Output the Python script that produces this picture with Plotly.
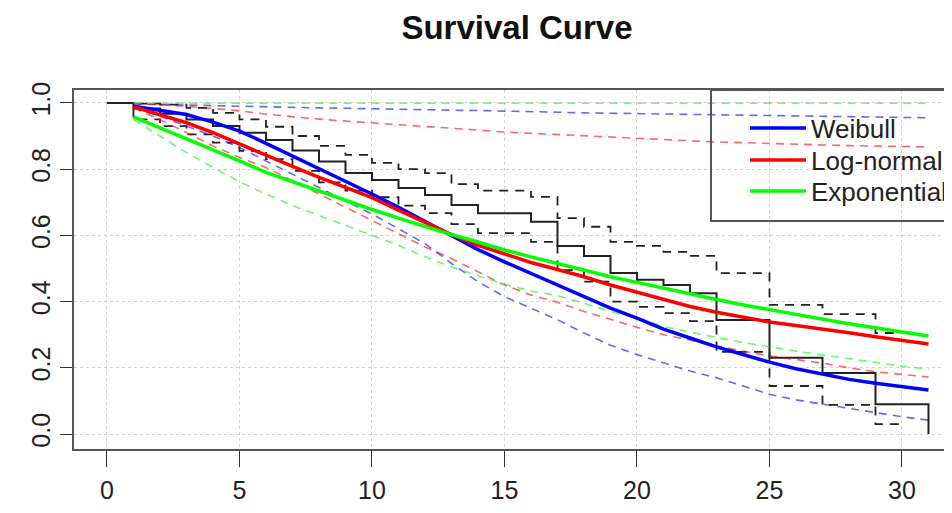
import plotly.graph_objects as go

# ---- Kaplan-Meier estimate (step) ----
km_time = list(range(0, 32))
km_surv = [1.0, 0.983, 0.967, 0.95, 0.93, 0.91, 0.888, 0.856, 0.823, 0.788, 0.767,
           0.743, 0.722, 0.692, 0.667, 0.667, 0.641, 0.568, 0.538, 0.486, 0.466,
           0.45, 0.425, 0.344, 0.344, 0.23, 0.23, 0.184, 0.184, 0.09, 0.09, 0.0]
ci_time = list(range(0, 31))
km_upper = [1.0, 0.998, 0.995, 0.985, 0.97, 0.95, 0.928, 0.90, 0.87, 0.843, 0.819,
            0.80, 0.788, 0.755, 0.735, 0.735, 0.716, 0.652, 0.626, 0.58, 0.568,
            0.55, 0.538, 0.486, 0.486, 0.39, 0.39, 0.362, 0.362, 0.305, 0.305]
km_lower = [1.0, 0.95, 0.93, 0.905, 0.88, 0.855, 0.83, 0.795, 0.76, 0.735, 0.715,
            0.69, 0.667, 0.634, 0.607, 0.607, 0.58, 0.495, 0.46, 0.40, 0.384,
            0.365, 0.341, 0.248, 0.248, 0.145, 0.145, 0.088, 0.088, 0.03, 0.03]

# ---- parametric fits ----
t = list(range(1, 32))
weibull = [0.99, 0.978, 0.965, 0.942, 0.915, 0.878, 0.84, 0.803, 0.765, 0.725, 0.685,
           0.642, 0.60, 0.557, 0.52, 0.485, 0.45, 0.415, 0.38, 0.35, 0.317, 0.29,
           0.263, 0.24, 0.217, 0.197, 0.18, 0.165, 0.153, 0.143, 0.133]
weibull_lo = [0.985, 0.96, 0.93, 0.90, 0.865, 0.825, 0.785, 0.745, 0.705, 0.664, 0.62,
              0.575, 0.515, 0.46, 0.415, 0.38, 0.345, 0.305, 0.268, 0.24, 0.215, 0.19,
              0.17, 0.145, 0.12, 0.103, 0.09, 0.077, 0.065, 0.052, 0.042]
weibull_hi = [0.997, 0.995, 0.993, 0.991, 0.99, 0.988, 0.987, 0.985, 0.984, 0.982, 0.981,
              0.98, 0.978, 0.977, 0.976, 0.974, 0.972, 0.97, 0.969, 0.968, 0.967, 0.965,
              0.964, 0.963, 0.962, 0.961, 0.96, 0.959, 0.957, 0.956, 0.955]
lognormal = [0.988, 0.965, 0.94, 0.91, 0.875, 0.842, 0.808, 0.775, 0.745, 0.714, 0.676,
             0.638, 0.602, 0.57, 0.543, 0.518, 0.497, 0.475, 0.45, 0.428, 0.405, 0.385,
             0.368, 0.352, 0.338, 0.328, 0.318, 0.306, 0.294, 0.283, 0.272]
lognormal_lo = [0.985, 0.95, 0.91, 0.87, 0.835, 0.805, 0.765, 0.725, 0.685, 0.645, 0.605,
                0.565, 0.53, 0.49, 0.45, 0.42, 0.398, 0.37, 0.345, 0.322, 0.30, 0.283,
                0.267, 0.25, 0.236, 0.225, 0.214, 0.20, 0.188, 0.18, 0.172]
lognormal_hi = [0.999, 0.995, 0.99, 0.983, 0.976, 0.966, 0.958, 0.951, 0.945, 0.94, 0.935,
                0.93, 0.925, 0.918, 0.912, 0.908, 0.904, 0.90, 0.897, 0.894, 0.89, 0.885,
                0.882, 0.88, 0.877, 0.875, 0.873, 0.871, 0.87, 0.868, 0.867]
exponential = [0.958, 0.925, 0.89, 0.857, 0.825, 0.79, 0.762, 0.733, 0.705, 0.678, 0.652,
               0.627, 0.602, 0.58, 0.556, 0.535, 0.515, 0.496, 0.475, 0.458, 0.44, 0.423,
               0.406, 0.39, 0.375, 0.36, 0.347, 0.333, 0.32, 0.308, 0.296]
exponential_lo = [0.95, 0.90, 0.85, 0.805, 0.762, 0.725, 0.69, 0.66, 0.63, 0.60, 0.57,
                  0.535, 0.505, 0.478, 0.452, 0.432, 0.418, 0.395, 0.37, 0.35, 0.325,
                  0.308, 0.292, 0.276, 0.264, 0.25, 0.239, 0.227, 0.215, 0.205, 0.196]
exponential_hi = [0.999] * 31

x_ticks = [0, 5, 10, 15, 20, 25, 30]
y_ticks = [0.0, 0.2, 0.4, 0.6, 0.8, 1.0]

FONT = "Liberation Sans, Arial, sans-serif"
fig = go.Figure()

# KM step + CI
fig.add_trace(go.Scatter(x=km_time, y=km_surv, mode="lines", line=dict(color="#222", width=2, shape="hv"),
                         showlegend=False, hoverinfo="skip"))
for ci in (km_upper, km_lower):
    fig.add_trace(go.Scatter(x=ci_time, y=ci, mode="lines",
                             line=dict(color="#222", width=1.8, shape="hv", dash="9px,7px"),
                             showlegend=False, hoverinfo="skip"))

series = [
    ("Weibull", weibull, weibull_lo, weibull_hi, "#0000FF", "rgba(0,0,255,0.6)", "legend"),
    ("Log-normal", lognormal, lognormal_lo, lognormal_hi, "#FF0000", "rgba(255,0,0,0.6)", "legend2"),
    ("Exponential", exponential, exponential_lo, exponential_hi, "#00FF00", "rgba(0,255,0,0.6)", "legend3"),
]
for name, s, lo, hi, col, lcol, lg in series:
    for ci in (lo, hi):
        fig.add_trace(go.Scatter(x=t, y=ci, mode="lines",
                                 line=dict(color=lcol, width=1.6, dash="8px,6px"),
                                 showlegend=False, hoverinfo="skip"))
for name, s, lo, hi, col, lcol, lg in series:
    fig.add_trace(go.Scatter(x=t, y=s, mode="lines", name=name, legend=lg,
                             line=dict(color=col, width=3.5)))

# page body has an 8px margin -> figure is 944x505 placed at (8,8)
W, H = 944, 505
L, T, B = 66, 82, 64
PW, PH = W - L, H - T - B


def px_x(p):  # page x -> paper x
    return (p - 8 - L) / PW


def px_y(p):  # page y -> paper y
    return (H - B - (p - 8)) / PH


leg_common = dict(xanchor="left", yanchor="middle", bgcolor="rgba(0,0,0,0)", borderwidth=0,
                  font=dict(size=26, color="#222"), itemwidth=56)
fig.update_layout(
    width=W, height=H,
    margin=dict(l=L, r=0, t=T, b=B),
    paper_bgcolor="white", plot_bgcolor="white",
    font=dict(family=FONT, size=25, color="#222"),
    title=dict(text="<b>Survival Curve</b>", x=(517 - 8) / W, xref="container", xanchor="center",
               y=1 - (27 - 8) / H, yref="container", yanchor="middle",
               font=dict(family=FONT, size=33, color="#111")),
    legend=dict(x=px_x(745), y=px_y(128), **leg_common),
    legend2=dict(x=px_x(745), y=px_y(160), **leg_common),
    legend3=dict(x=px_x(745), y=px_y(191), **leg_common),
    showlegend=True,
    shapes=[dict(type="rect", xref="paper", yref="paper", x0=px_x(711), x1=1.02,
                 y0=px_y(221), y1=1.0, line=dict(color="#555", width=2), layer="above")],
)
fig.update_xaxes(range=[-1.245, 31.887], tickvals=x_ticks, ticks="outside", ticklen=16, tickwidth=1,
                 tickcolor="#333", showline=True, linecolor="#555", linewidth=2, mirror=True,
                 showgrid=True, gridcolor="#d3d3d3", griddash="dot", gridwidth=1, zeroline=False,
                 ticklabelstandoff=2)
fig.update_yaxes(range=[-0.0453, 1.039], tickvals=y_ticks, tickformat=".1f", ticks="outside", ticklen=12,
                 tickwidth=1, tickcolor="#333", showline=True, linecolor="#555", linewidth=2, mirror=False,
                 showgrid=True, gridcolor="#d3d3d3", griddash="dot", gridwidth=1, zeroline=False,
                 tickangle=-90)

fig.write_html("out.html")
